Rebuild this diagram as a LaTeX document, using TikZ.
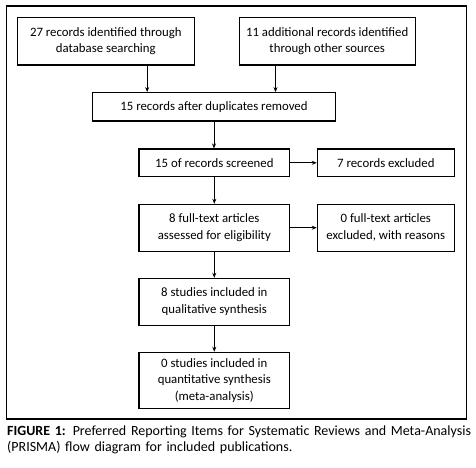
\documentclass[tikz,border=0pt]{standalone}
\usepackage{fontspec}
\setmainfont{Carlito}
\usetikzlibrary{arrows.meta,calc}
\begin{document}
\begin{tikzpicture}[x=1pt,y=-1pt,
  box/.style={draw,line width=1.1pt,align=center,inner sep=0pt,
    font=\fontsize{12.8}{16.7}\selectfont},
  arr/.style={line width=1pt,-{Stealth[length=5pt,width=4pt]}}]
\useasboundingbox (0,0) rectangle (476,467);
\draw[line width=1.2pt] (6.5,6) rectangle (466.5,419);
\node[box,minimum width=177pt,minimum height=47.3pt] (A) at (105.8,41.3) {27 records identified through\\database searching};
\node[box,minimum width=176.3pt,minimum height=47.3pt] (B) at (327.2,41.3) {11 additional records identified\\through other sources};
\node[box,minimum width=243.4pt,minimum height=28.3pt] (C) at (214,106.8) {15 records after duplicates removed};
\node[box,minimum width=150.7pt,minimum height=27.7pt] (D) at (214.3,162.8) {15 of records screened};
\node[box,minimum width=137pt,minimum height=27.7pt] (E) at (385.8,162.8) {7 records excluded};
\node[box,minimum width=150.7pt,minimum height=46.7pt] (F) at (214.3,227.7) {8 full-text articles\\assessed for eligibility};
\node[box,minimum width=137pt,minimum height=46.7pt] (G) at (385.8,227.7) {0 full-text articles\\excluded, with reasons};
\node[box,minimum width=150.7pt,minimum height=46.7pt] (H) at (214.3,301.7) {8 studies included in\\qualitative synthesis};
\node[box,minimum width=150.7pt,minimum height=56pt] (I) at (214.3,380.3) {0 studies included in\\quantitative synthesis\\(meta-analysis)};
\coordinate (a1) at ($(A.south west)+(130.4,0)$);
\coordinate (b1) at ($(B.south west)+(37,0)$);
\draw[arr] (a1) -- (a1 |- C.north);
\draw[arr] (b1) -- (b1 |- C.north);
\draw[arr] (C.south) -- (C.south |- D.north);
\draw[arr] (D.east) -- (E.west);
\draw[arr] (D.south) -- (F.north);
\draw[arr] (F.east) -- (G.west);
\draw[arr] (F.south) -- (H.north);
\draw[arr] (H.south) -- (I.north);
\node[anchor=north west,inner sep=0pt,text width=466pt,align=left,
  font=\fontsize{14}{16}\selectfont] (cap) at (7,425.5)
  {\textbf{FIGURE 1:} Preferred Reporting Items for Systematic Reviews and Meta-Analysis (PRISMA) flow diagram for included publications.};
\end{tikzpicture}
\end{document}
